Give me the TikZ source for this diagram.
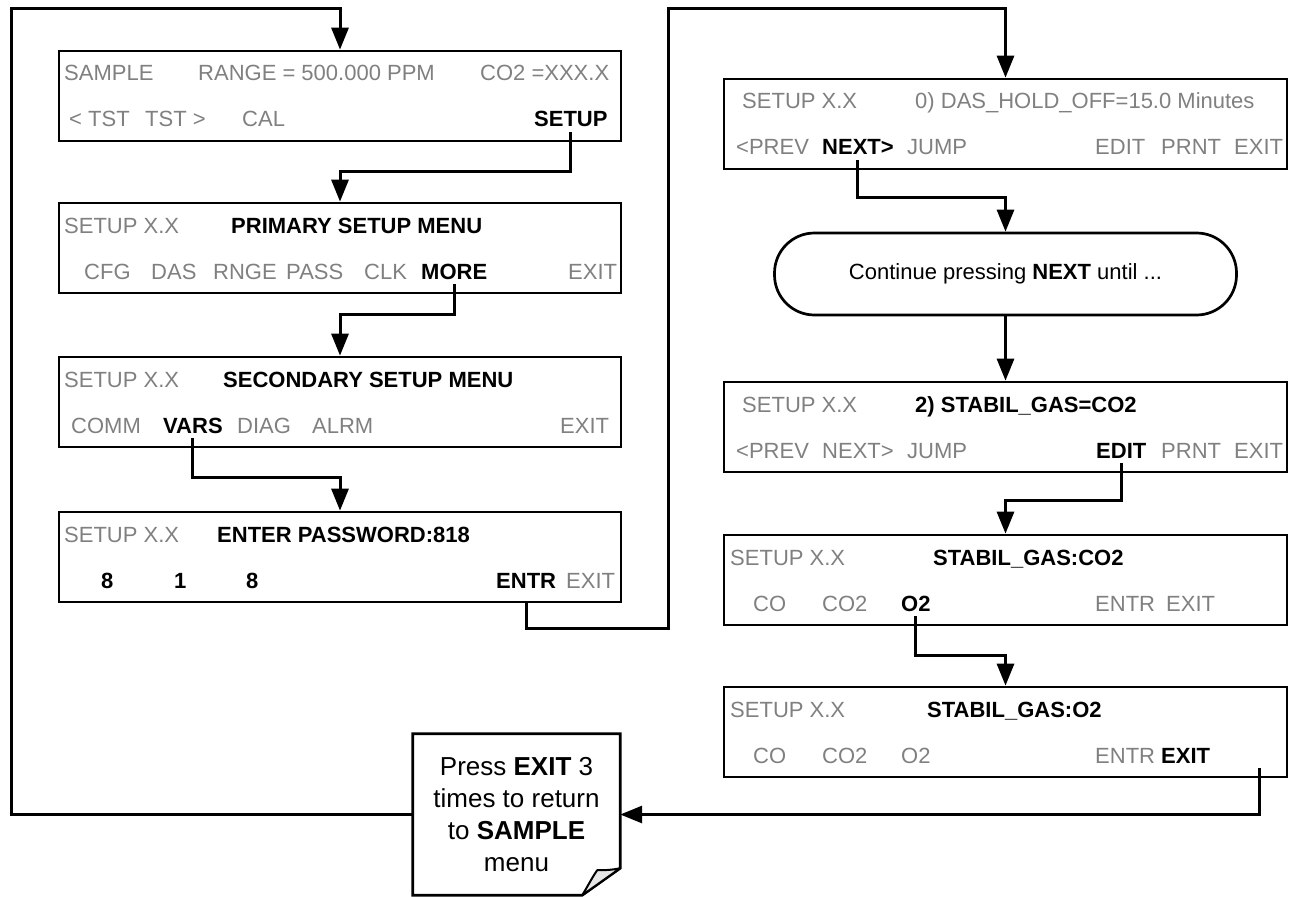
\documentclass[tikz,border=0pt]{standalone}
\usepackage{fontspec}
\setmainfont{Liberation Sans}
\usetikzlibrary{arrows.meta}
\definecolor{lcdgray}{RGB}{128,128,128}
\definecolor{flapgray}{RGB}{230,230,230}
\begin{document}
\begin{tikzpicture}[x=1pt,y=-1pt,
  scr/.style={draw, line width=2.7pt, minimum width=562pt, minimum height=90pt, inner sep=0pt},
  lbl/.style={anchor=base west, inner sep=0pt, outer ysep=5pt, text=lcdgray, font=\fontsize{22}{26}\selectfont},
  key/.style={lbl, text=black, font=\fontsize{22}{26}\selectfont\bfseries},
  conn/.style={line width=3pt, line join=miter, -{Triangle[length=22pt,width=17pt]}},
]
\useasboundingbox (0,0) rectangle (1289,896);

% ---------- left column ----------
\node[scr] (b1) at (340,96) {};
\node[scr] (b2) at (340,248) {};
\node[scr] (b3) at (340,402) {};
\node[scr] (b4) at (340,557) {};

\node[lbl] (b1a) at (64,81) {SAMPLE};
\node[lbl] (b1b) at (198,81) {RANGE = 500.000 PPM};
\node[lbl] (b1c) at (480,81) {CO2 =XXX.X};
\node[lbl] (b1d) at (69,127) {< TST};
\node[lbl] (b1e) at (145,127) {TST >};
\node[lbl] (b1f) at (242,127) {CAL};
\node[key] (setup) at (534,127) {SETUP};

\node[lbl] (b2a) at (64,233) {SETUP X.X};
\node[key] (b2b) at (231,233) {PRIMARY SETUP MENU};
\node[lbl] (b2c) at (84,279) {CFG};
\node[lbl] (b2d) at (151,279) {DAS};
\node[lbl] (b2e) at (213,279) {RNGE};
\node[lbl] (b2f) at (286,279) {PASS};
\node[lbl] (b2g) at (364,279) {CLK};
\node[key] (more) at (421,279) {MORE};
\node[lbl] (b2h) at (568,279) {EXIT};

\node[lbl] (b3a) at (64,387) {SETUP X.X};
\node[key] (b3b) at (223,387) {SECONDARY SETUP MENU};
\node[lbl] (b3c) at (71,433) {COMM};
\node[key] (vars) at (163,433) {VARS};
\node[lbl] (b3d) at (237,433) {DIAG};
\node[lbl] (b3e) at (312,433) {ALRM};
\node[lbl] (b3f) at (560,433) {EXIT};

\node[lbl] (b4a) at (64,542) {SETUP X.X};
\node[key] (b4b) at (217,542) {ENTER PASSWORD:818};
\node[key] (b4c) at (101,588) {8};
\node[key] (b4d) at (174,588) {1};
\node[key] (b4e) at (246,588) {8};
\node[key] (entr) at (496,588) {ENTR};
\node[lbl] (b4f) at (566,588) {EXIT};

% ---------- right column ----------
\node[scr, minimum width=563pt] (r1) at (1005.5,124) {};
\node[scr, minimum width=563pt] (r2) at (1005.5,427) {};
\node[scr, minimum width=563pt] (r3) at (1005.5,580) {};
\node[scr, minimum width=563pt] (r4) at (1005.5,732) {};
\node[draw, line width=2.7pt, rounded corners=40pt, minimum width=462pt, minimum height=82pt,
      font=\fontsize{22}{26}\selectfont] (cont) at (1005.5,274) {Continue pressing \textbf{NEXT} until ...};

\node[lbl] (r1a) at (742,109) {SETUP X.X};
\node[lbl] (r1b) at (915,109) {0) DAS\_HOLD\_OFF=15.0 Minutes};
\node[lbl] (r1c) at (736,155) {<PREV};
\node[key] (next) at (822,155) {NEXT>};
\node[lbl] (r1d) at (907,155) {JUMP};
\node[lbl] (r1e) at (1095,155) {EDIT};
\node[lbl] (r1f) at (1161,155) {PRNT};
\node[lbl] (r1g) at (1234,155) {EXIT};

\node[lbl] (r2a) at (742,412) {SETUP X.X};
\node[key] (r2b) at (915,412) {2) STABIL\_GAS=CO2};
\node[lbl] (r2c) at (736,458) {<PREV};
\node[lbl] (r2d) at (822,458) {NEXT>};
\node[lbl] (r2e) at (907,458) {JUMP};
\node[key] (edit) at (1096,458) {EDIT};
\node[lbl] (r2f) at (1161,458) {PRNT};
\node[lbl] (r2g) at (1234,458) {EXIT};

\node[lbl] (r3a) at (730,565) {SETUP X.X};
\node[key] (r3b) at (933,565) {STABIL\_GAS:CO2};
\node[lbl] (r3c) at (753,611) {CO};
\node[lbl] (r3d) at (822,611) {CO2};
\node[key] (otwo) at (901,611) {O2};
\node[lbl] (r3e) at (1095,611) {ENTR};
\node[lbl] (r3f) at (1166,611) {EXIT};

\node[lbl] (r4a) at (730,717) {SETUP X.X};
\node[key] (r4b) at (927,717) {STABIL\_GAS:O2};
\node[lbl] (r4c) at (753,763) {CO};
\node[lbl] (r4d) at (822,763) {CO2};
\node[lbl] (r4e) at (901,763) {O2};
\node[lbl] (r4f) at (1095,763) {ENTR};
\node[key] (exitkey) at (1161,763) {EXIT};

% ---------- note ----------
\node[minimum width=207pt, minimum height=161pt, inner sep=0pt, align=center,
      font=\fontsize{26}{32}\selectfont] (note) at (516.5,814.5)
      {Press \textbf{EXIT} 3\\times to return\\to \textbf{SAMPLE}\\menu};
\draw[line width=2.7pt, line join=miter] (note.north west) -- (note.north east)
   -- ([yshift=27pt]note.south east) -- ([xshift=-38pt]note.south east)
   -- (note.south west) -- cycle;
\draw[line width=2pt, fill=flapgray, line join=round] ([yshift=27pt]note.south east)
   .. controls ([xshift=-9pt,yshift=25pt]note.south east) and ([xshift=-17pt,yshift=25pt]note.south east)
   .. ([xshift=-23pt,yshift=25pt]note.south east)
   .. controls ([xshift=-28pt,yshift=18pt]note.south east) and ([xshift=-33pt,yshift=8pt]note.south east)
   .. ([xshift=-38pt]note.south east) -- cycle;

% ---------- connectors ----------
\coordinate (h1) at (340,172);
\coordinate (h2) at (340,314);
\coordinate (h3) at (340,477);
\coordinate (h4) at (668,628);
\coordinate (h5) at (668,9);
\coordinate (h6) at (1005.5,197);
\coordinate (h7) at (1005.5,500);
\coordinate (h8) at (1005.5,655);
\coordinate (h9) at (11,9);
\coordinate (ex) at (1259,768);

\draw[conn] (setup.south) -- (setup.south |- h1) -| (b2.north);
\draw[conn] (more.south) -- (more.south |- h2) -| (b3.north);
\draw[conn] (vars.south) -- (vars.south |- h3) -| (b4.north);
\draw[conn] (entr |- b4.south) -- (entr |- h4) -- (h4) -- (h5) -| (r1.north);
\draw[conn] (next.south) -- (next.south |- h6) -| (cont.north);
\draw[conn] (cont) -- (r2);
\draw[conn] (edit.south) -- (edit.south |- h7) -| (r3.north);
\draw[conn] (otwo.south) -- (otwo.south |- h8) -| (r4.north);
\draw[conn] (ex) |- (note.east);
\draw[conn] (note.west) -| (h9) -| (b1.north);
\end{tikzpicture}
\end{document}
